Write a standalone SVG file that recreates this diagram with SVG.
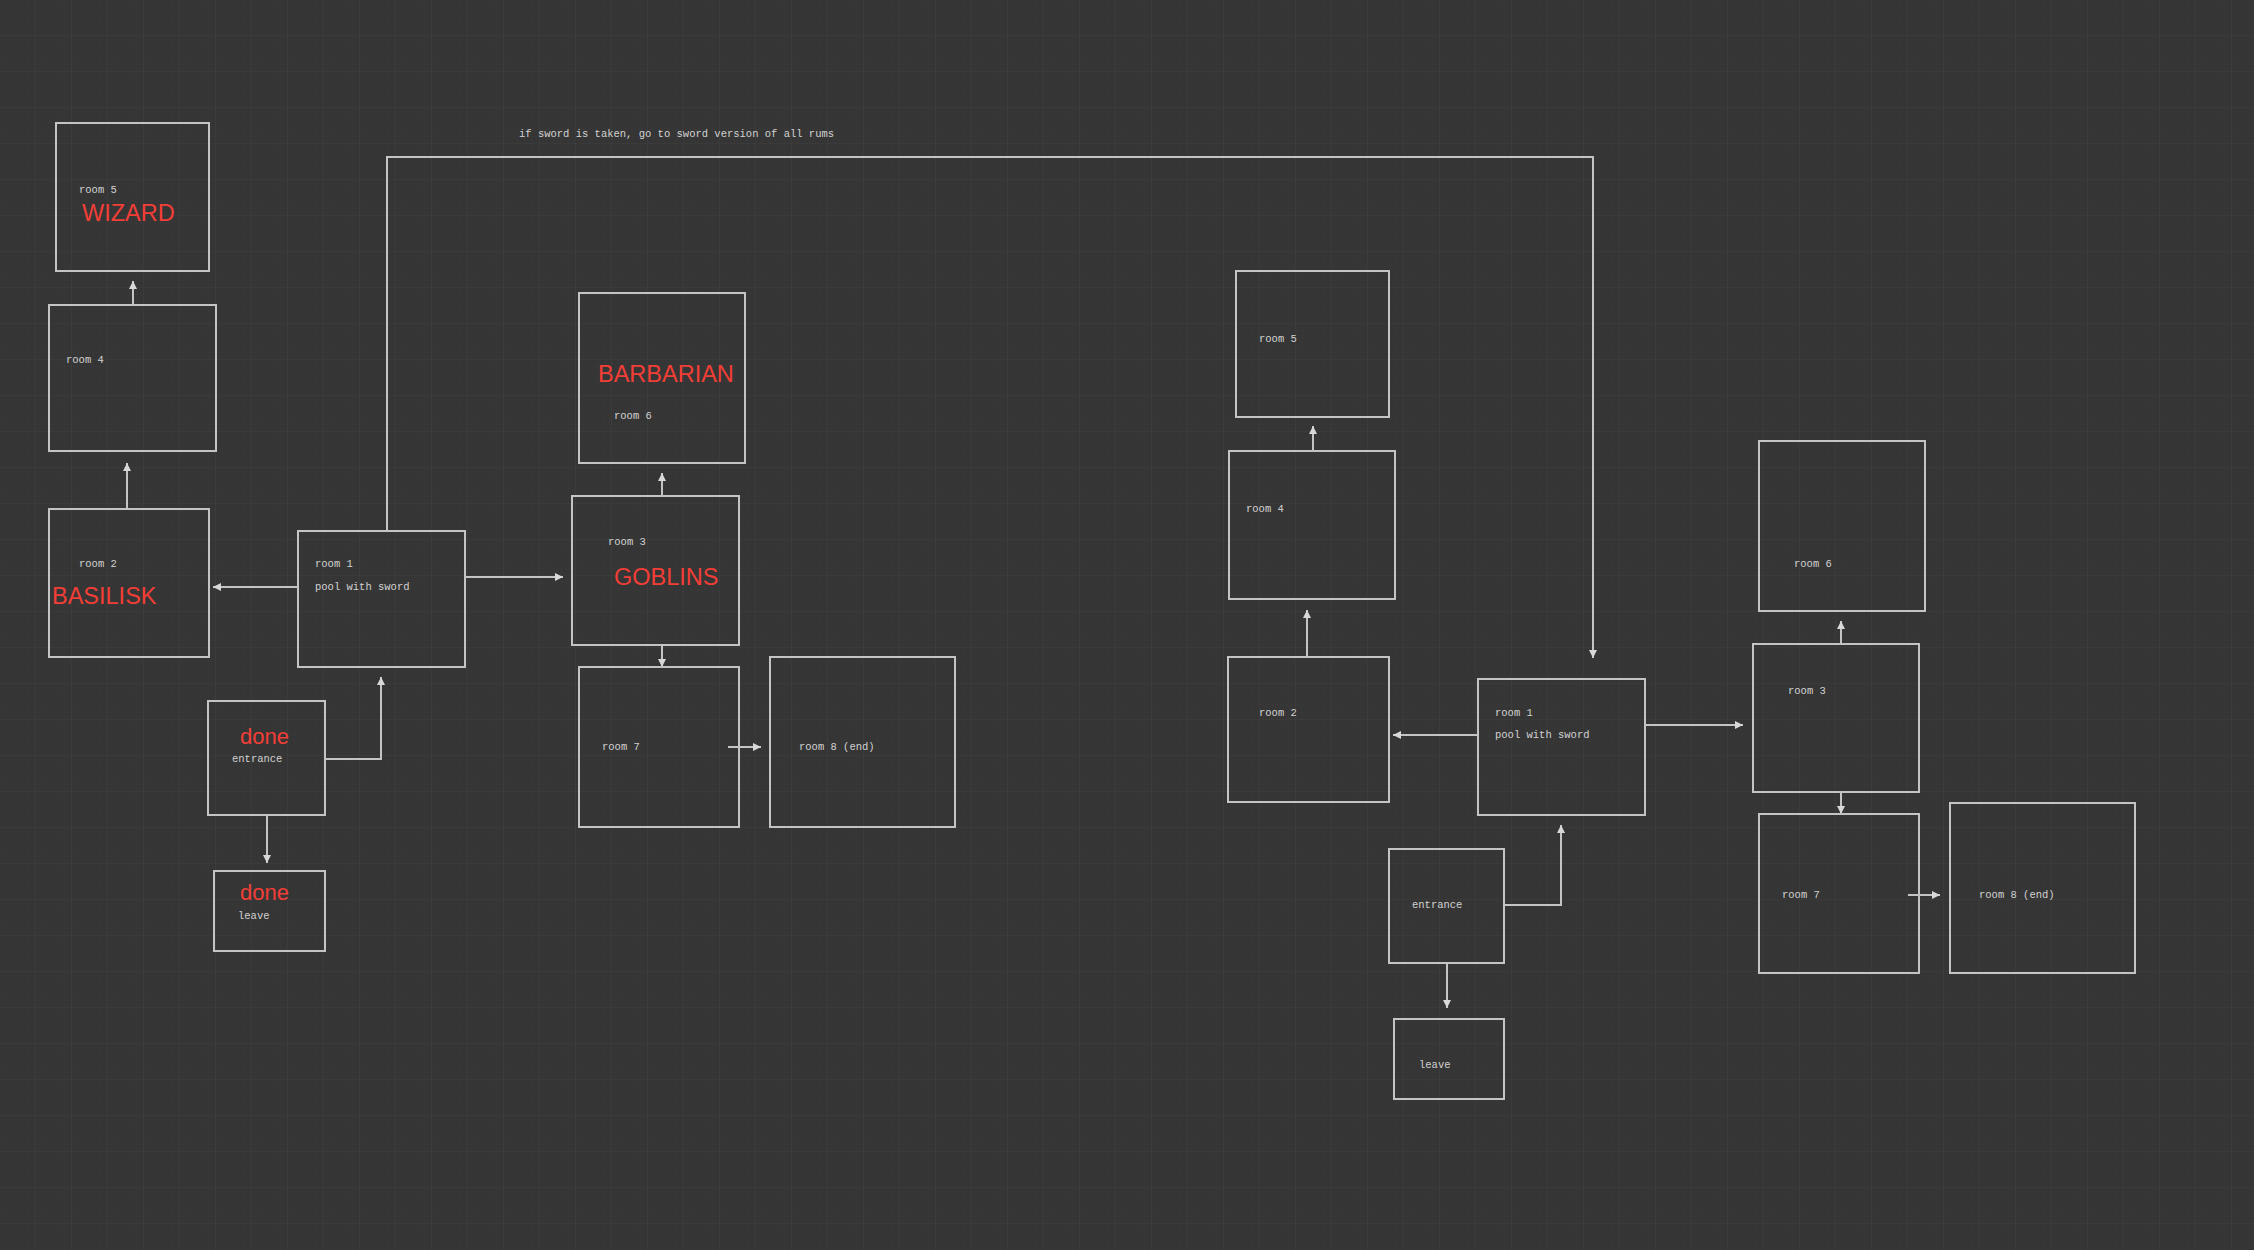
<svg xmlns="http://www.w3.org/2000/svg" width="2254" height="1250" viewBox="0 0 2254 1250">
<defs>
<style>
.box{fill:none;stroke:#c4c4c4;stroke-width:2}
.edge{fill:none;stroke:#c4c4c4;stroke-width:2}
.lbl{font-family:"Liberation Mono","Courier New",monospace;font-size:10.5px;fill:#d2d2d2}
.red{font-family:"Liberation Sans",Arial,sans-serif;font-size:23.5px;fill:#f23e36}
.done{font-family:"Liberation Sans",Arial,sans-serif;font-size:22px;fill:#f23e36}
</style>
<pattern id="minor" width="7.2" height="7.2" patternUnits="userSpaceOnUse">
<path d="M7.2 0V7.2M0 7.2H7.2" stroke="#393939" stroke-width="1" fill="none"/>
</pattern>
<pattern id="major" width="36" height="36" patternUnits="userSpaceOnUse">
<path d="M36 0V36M0 36H36" stroke="#3d3d3d" stroke-width="1.2" fill="none"/>
</pattern>
<marker id="arr" viewBox="0 0 10 10" refX="10" refY="5" markerWidth="8" markerHeight="8" markerUnits="userSpaceOnUse" orient="auto">
<path d="M0 0L10 5L0 10Z" fill="#d8d8d8"/>
</marker>
</defs>
<rect width="2254" height="1250" fill="#353535"/>
<rect width="2254" height="1250" fill="url(#minor)"/>
<rect width="2254" height="1250" fill="url(#major)"/>

<text class="lbl" x="519" y="137">if sword is taken, go to sword version of all rums</text>

<g id="connectors">
<path class="edge" d="M133 305V281" marker-end="url(#arr)"/>
<path class="edge" d="M127 509V463" marker-end="url(#arr)"/>
<path class="edge" d="M298 587H213" marker-end="url(#arr)"/>
<path class="edge" d="M387 531V157H1593V658" marker-end="url(#arr)"/>
<path class="edge" d="M465 577H563" marker-end="url(#arr)"/>
<path class="edge" d="M325 759H381V677" marker-end="url(#arr)"/>
<path class="edge" d="M267 815V863" marker-end="url(#arr)"/>
<path class="edge" d="M662 496V473" marker-end="url(#arr)"/>
<path class="edge" d="M662 645V667" marker-end="url(#arr)"/>
<path class="edge" d="M728 747H761" marker-end="url(#arr)"/>
<path class="edge" d="M1313 451V426" marker-end="url(#arr)"/>
<path class="edge" d="M1307 657V610" marker-end="url(#arr)"/>
<path class="edge" d="M1478 735H1393" marker-end="url(#arr)"/>
<path class="edge" d="M1645 725H1743" marker-end="url(#arr)"/>
<path class="edge" d="M1841 644V621" marker-end="url(#arr)"/>
<path class="edge" d="M1841 792V814" marker-end="url(#arr)"/>
<path class="edge" d="M1908 895H1940" marker-end="url(#arr)"/>
<path class="edge" d="M1504 905H1561V825" marker-end="url(#arr)"/>
<path class="edge" d="M1447 963V1008" marker-end="url(#arr)"/>
</g>

<g id="L-room5"><rect class="box" x="56" y="123" width="153" height="148"/><text class="lbl" x="79" y="193">room 5</text><text class="red" x="82" y="221">WIZARD</text></g>
<g id="L-room4"><rect class="box" x="49" y="305" width="167" height="146"/><text class="lbl" x="66" y="363">room 4</text></g>
<g id="L-room2"><rect class="box" x="49" y="509" width="160" height="148"/><text class="lbl" x="79" y="567">room 2</text><text class="red" x="52" y="604">BASILISK</text></g>
<g id="L-room1"><rect class="box" x="298" y="531" width="167" height="136"/><text class="lbl" x="315" y="567">room 1</text><text class="lbl" x="315" y="590">pool with sword</text></g>
<g id="L-entrance"><rect class="box" x="208" y="701" width="117" height="114"/><text class="done" x="240" y="744">done</text><text class="lbl" x="232" y="762">entrance</text></g>
<g id="L-leave"><rect class="box" x="214" y="871" width="111" height="80"/><text class="done" x="240" y="900">done</text><text class="lbl" x="238" y="919">leave</text></g>
<g id="L-room6"><rect class="box" x="579" y="293" width="166" height="170"/><text class="red" x="598" y="382">BARBARIAN</text><text class="lbl" x="614" y="419">room 6</text></g>
<g id="L-room3"><rect class="box" x="572" y="496" width="167" height="149"/><text class="lbl" x="608" y="545">room 3</text><text class="red" x="614" y="585">GOBLINS</text></g>
<g id="L-room7"><rect class="box" x="579" y="667" width="160" height="160"/><text class="lbl" x="602" y="750">room 7</text></g>
<g id="L-room8"><rect class="box" x="770" y="657" width="185" height="170"/><text class="lbl" x="799" y="750">room 8 (end)</text></g>

<g id="R-room5"><rect class="box" x="1236" y="271" width="153" height="146"/><text class="lbl" x="1259" y="342">room 5</text></g>
<g id="R-room4"><rect class="box" x="1229" y="451" width="166" height="148"/><text class="lbl" x="1246" y="512">room 4</text></g>
<g id="R-room2"><rect class="box" x="1228" y="657" width="161" height="145"/><text class="lbl" x="1259" y="716">room 2</text></g>
<g id="R-room1"><rect class="box" x="1478" y="679" width="167" height="136"/><text class="lbl" x="1495" y="716">room 1</text><text class="lbl" x="1495" y="738">pool with sword</text></g>
<g id="R-room3"><rect class="box" x="1753" y="644" width="166" height="148"/><text class="lbl" x="1788" y="694">room 3</text></g>
<g id="R-room6"><rect class="box" x="1759" y="441" width="166" height="170"/><text class="lbl" x="1794" y="567">room 6</text></g>
<g id="R-room7"><rect class="box" x="1759" y="814" width="160" height="159"/><text class="lbl" x="1782" y="898">room 7</text></g>
<g id="R-room8"><rect class="box" x="1950" y="803" width="185" height="170"/><text class="lbl" x="1979" y="898">room 8 (end)</text></g>
<g id="R-entrance"><rect class="box" x="1389" y="849" width="115" height="114"/><text class="lbl" x="1412" y="908">entrance</text></g>
<g id="R-leave"><rect class="box" x="1394" y="1019" width="110" height="80"/><text class="lbl" x="1419" y="1068">leave</text></g>
</svg>
